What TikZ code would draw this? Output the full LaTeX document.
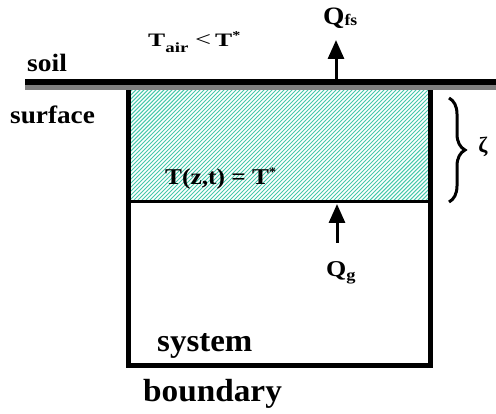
\documentclass[tikz,border=0pt]{standalone}
\usepackage{graphicx}
\usepackage{fontspec}
\setmainfont{Liberation Serif}
\usetikzlibrary{arrows.meta,patterns.meta,decorations.pathreplacing}
\definecolor{hatchc}{RGB}{70,200,170}
\definecolor{soilgray}{RGB}{128,128,128}
\newcommand{\fsz}[1]{\fontsize{#1}{#1}\selectfont}
\newcommand{\hs}[2]{\scalebox{#1}[1]{#2}}
\begin{document}
\begin{tikzpicture}[x=1pt,y=-1pt,
  lbl/.style={inner sep=0pt, anchor=base west},
  arr/.style={line width=3pt, -{Triangle[width=16pt,length=19pt]}},
  thickline/.style={line width=5pt},
]
\useasboundingbox (0,0) rectangle (496,414);
\fill[white] (0,0) rectangle (496,414);
% hatched layer
\fill[pattern={Lines[angle=45,distance=2.83pt,line width=0.95pt]}, pattern color=hatchc] (131,90) rectangle (428,202);
\coordinate (divL) at (131,202);
\coordinate (divR) at (428,202);
\draw[line width=3pt] (divL) -- (divR);
% system box
\coordinate (boxTL) at (128.5,90);
\coordinate (boxBL) at (128.5,366);
\coordinate (boxBR) at (430.5,366);
\coordinate (boxTR) at (430.5,90);
\draw[thickline] (boxTL) -- (boxBL) -- (boxBR) -- (boxTR);
% soil surface line
\coordinate (soilL) at (25,82);
\coordinate (soilR) at (496,82);
\coordinate (grayL) at (25,87.5);
\coordinate (grayR) at (496,87.5);
\draw[line width=6pt] (soilL) -- (soilR);
\draw[line width=5pt, soilgray] (grayL) -- (grayR);
% labels
\node[lbl, font=\bfseries\fsz{25}] (soil) at (27,72) {\hs{1.1}{soil}};
\node[lbl, font=\bfseries\fsz{25}] (surface) at (10,124) {\hs{1.09}{surface}};
\node[lbl, font=\bfseries\fsz{19}] (tair) at (148,47) {\hs{1.35}{T\raisebox{-6pt}{\fsz{14}air}\hspace{5pt}{\mdseries\fsz{21}<}\hspace{3pt}T\raisebox{7pt}{\fsz{12}*}}};
\node[lbl, font=\bfseries\fsz{22.6}] (tzt) at (165,185) {\hs{1.12}{T(z,t) = T\raisebox{8pt}{\fsz{13}*}}};
\node[lbl, font=\bfseries\fsz{25}] (qfs) at (323,25) {\hs{1.1}{Q\raisebox{-1pt}{\fsz{16}fs}}};
\node[lbl, font=\bfseries\fsz{22.6}] (qg) at (326,277) {\hs{1.15}{Q\raisebox{-4pt}{\fsz{16}g}}};
\node[lbl, font=\bfseries\fsz{32}] (system) at (157,352) {\hs{1.03}{system}};
\node[lbl, font=\bfseries\fsz{32}] (boundary) at (143,402) {\hs{1.04}{boundary}};
\node[inner sep=0pt, font=\bfseries\fsz{22}] (zeta) at (483,147) {ζ};
% brace
\coordinate (braceT) at (449,98);
\coordinate (braceB) at (449,202);
\draw[line width=3pt, decorate, decoration={brace, amplitude=16pt}] (braceT) -- (braceB);
% heat flux arrows
\coordinate (fsb) at (336,79);
\coordinate (fst) at (336,40);
\draw[arr] (fsb) -- (fst);
\coordinate (gt) at (337,243);
\coordinate (gh) at (337,204);
\draw[arr] (gt) -- (gh);
\end{tikzpicture}
\end{document}
